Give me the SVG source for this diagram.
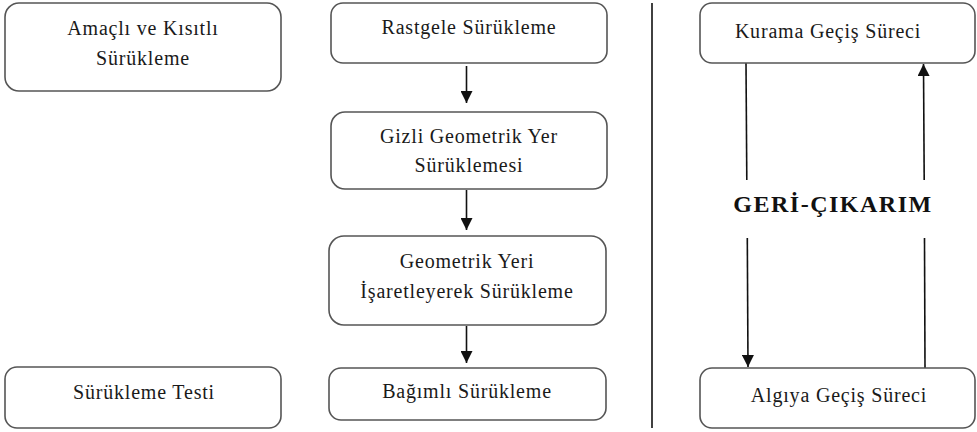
<svg xmlns="http://www.w3.org/2000/svg" width="977" height="432" viewBox="0 0 977 432">
<defs>
<style>
.box{fill:#fff;stroke:#555;stroke-width:1.6}
.t{font-family:"Liberation Serif","Times New Roman",serif;font-size:20px;fill:#1a1a1a;text-anchor:middle;letter-spacing:0.8px}
.b{font-family:"Liberation Serif","Times New Roman",serif;font-size:24px;font-weight:bold;fill:#111;text-anchor:middle;letter-spacing:1.5px}
.ln{stroke:#111;stroke-width:1.6;fill:none}
</style>
<marker id="ah" markerWidth="13" markerHeight="12" refX="12" refY="6" orient="auto" markerUnits="userSpaceOnUse">
<path d="M0,0 L12,6 L0,12 Z" fill="#111"/>
</marker>
</defs>
<rect width="977" height="432" fill="#fff"/>
<g id="connectors">
<line class="ln" x1="466.5" y1="66" x2="466.5" y2="103" marker-end="url(#ah)"/>
<line class="ln" x1="466.5" y1="190" x2="466.5" y2="230" marker-end="url(#ah)"/>
<line class="ln" x1="466.5" y1="326" x2="466.5" y2="363" marker-end="url(#ah)"/>
<line class="ln" x1="652" y1="3" x2="652" y2="428"/>
<line class="ln" x1="746" y1="63" x2="746.8" y2="180"/>
<line class="ln" x1="747.3" y1="238" x2="748" y2="367" marker-end="url(#ah)"/>
<line class="ln" x1="925" y1="368" x2="924.5" y2="238"/>
<line class="ln" x1="924.2" y1="180" x2="923.5" y2="64" marker-end="url(#ah)"/>
</g>
<g id="n-amacli">
<rect class="box" x="5" y="3" width="276" height="88" rx="14"/>
<text class="t" x="143" y="35">Amaçlı ve Kısıtlı</text>
<text class="t" x="143" y="65">Sürükleme</text>
</g>
<g id="n-test">
<rect class="box" x="5" y="367" width="276" height="61" rx="12"/>
<text class="t" x="144" y="399">Sürükleme Testi</text>
</g>
<g id="n-rastgele">
<rect class="box" x="331" y="3" width="276" height="60" rx="12"/>
<text class="t" x="469" y="34">Rastgele Sürükleme</text>
</g>
<g id="n-gizli">
<rect class="box" x="331" y="112" width="276" height="77" rx="14"/>
<text class="t" x="469" y="143">Gizli Geometrik Yer</text>
<text class="t" x="469" y="172">Sürüklemesi</text>
</g>
<g id="n-isaret">
<rect class="box" x="329" y="236" width="277" height="89" rx="15"/>
<text class="t" x="467" y="268">Geometrik Yeri</text>
<text class="t" x="467" y="298">İşaretleyerek Sürükleme</text>
</g>
<g id="n-bagimli">
<rect class="box" x="329" y="368" width="277" height="52" rx="12"/>
<text class="t" x="467" y="398">Bağımlı Sürükleme</text>
</g>
<g id="n-kurama">
<rect class="box" x="700" y="3" width="275" height="60" rx="12"/>
<text class="t" x="828" y="38">Kurama Geçiş Süreci</text>
</g>
<g id="n-algiya">
<rect class="box" x="700" y="368" width="275" height="60" rx="12"/>
<text class="t" x="839" y="402">Algıya Geçiş Süreci</text>
</g>
<g id="n-geri">
<text class="b" x="833" y="212">GERİ-ÇIKARIM</text>
</g>
</svg>
